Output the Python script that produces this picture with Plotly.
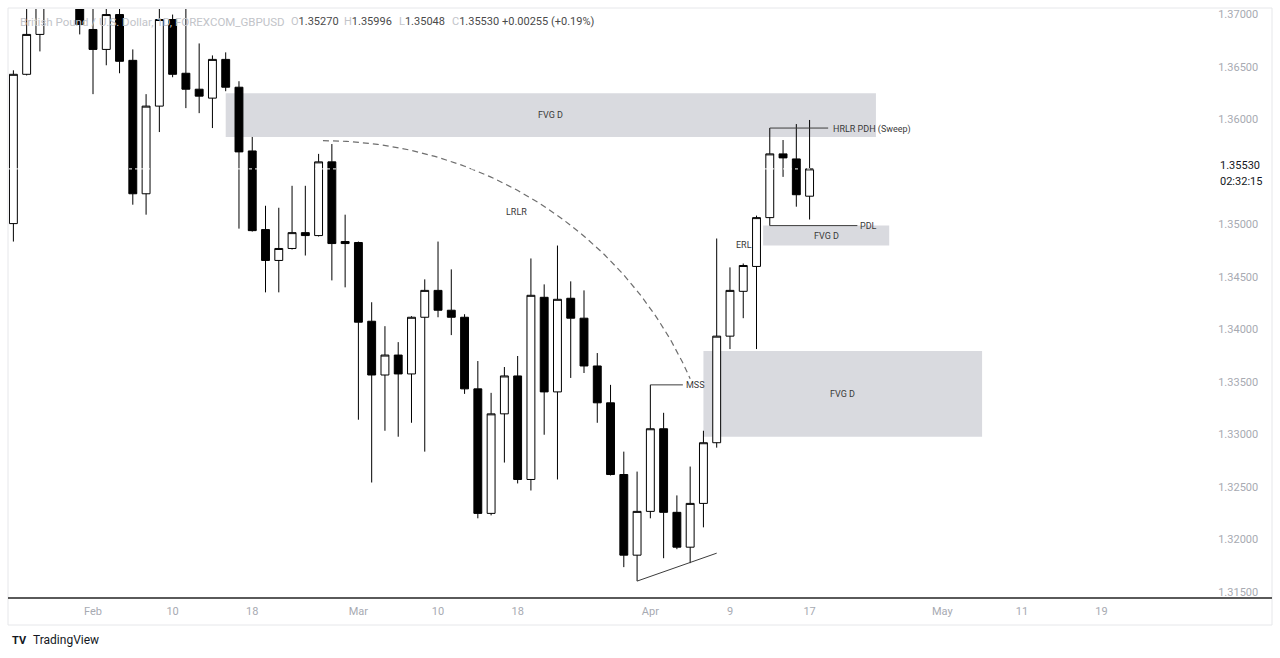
import math
import numpy as np
import pandas as pd
import plotly.graph_objects as go

# ---------------- data (GBPUSD daily, FOREXCOM) ----------------
dates = [
    "2026-01-23", "2026-01-26", "2026-01-27", "2026-01-28", "2026-01-29", "2026-01-30",
    "2026-02-02", "2026-02-03", "2026-02-04", "2026-02-05", "2026-02-06", "2026-02-09",
    "2026-02-10", "2026-02-11", "2026-02-12", "2026-02-13", "2026-02-16", "2026-02-17",
    "2026-02-18", "2026-02-19", "2026-02-20", "2026-02-23", "2026-02-24", "2026-02-25",
    "2026-02-26", "2026-02-27",
    "2026-03-02", "2026-03-03", "2026-03-04", "2026-03-05", "2026-03-06", "2026-03-09",
    "2026-03-10", "2026-03-11", "2026-03-12", "2026-03-13", "2026-03-16", "2026-03-17",
    "2026-03-18", "2026-03-19", "2026-03-20", "2026-03-23", "2026-03-24", "2026-03-25",
    "2026-03-26", "2026-03-27", "2026-03-30", "2026-03-31",
    "2026-04-01", "2026-04-02", "2026-04-03", "2026-04-06", "2026-04-07", "2026-04-08",
    "2026-04-09", "2026-04-10", "2026-04-13", "2026-04-14", "2026-04-15", "2026-04-16",
    "2026-04-17",
]
opens = [
    1.35009, 1.36431, 1.36811, 1.37250, 1.37680, 1.37400,
    1.36858, 1.36668, 1.37000, 1.36564, 1.35293, 1.36128, 1.36953, 1.36441, 1.36289, 1.36204,
    1.36573, 1.36308, 1.35701, 1.34952, 1.34658, 1.34772, 1.34923, 1.34895, 1.35597, 1.34838,
    1.34829, 1.34079, 1.33567, 1.33757, 1.33577, 1.34117, 1.34373, 1.34184, 1.34117, 1.33435,
    1.32249, 1.33197, 1.33558, 1.32572, 1.34307, 1.33406, 1.34298, 1.34108, 1.33653, 1.33302,
    1.32619, 1.31851,
    1.32268, 1.33055, 1.32259, 1.31927, 1.32344, 1.32922, 1.33937, 1.34364, 1.34601, 1.35066,
    1.35673, 1.35625, 1.35270,
]
highs = [
    1.36469, 1.37350, 1.37600, 1.37900, 1.38150, 1.37520,
    1.37150, 1.37120, 1.37080, 1.36668, 1.36242, 1.37120, 1.37000, 1.37100, 1.36725, 1.36611,
    1.36640, 1.36365, 1.35834, 1.35179, 1.35160, 1.35369, 1.35369, 1.35673, 1.35767, 1.35094,
    1.34838, 1.34260, 1.34032, 1.33880, 1.34127, 1.34478, 1.34838, 1.34573, 1.34146, 1.33700,
    1.33397, 1.33643, 1.33748, 1.34677, 1.34430, 1.34800, 1.34459, 1.34373, 1.33776, 1.33473,
    1.32837, 1.32647,
    1.33473, 1.33207, 1.32420, 1.32695, 1.33036, 1.34867, 1.34592, 1.34629, 1.35085, 1.35919,
    1.35805, 1.35957, 1.35996,
]
lows = [
    1.34838, 1.36420, 1.36649, 1.37120, 1.37180, 1.36811,
    1.36242, 1.36517, 1.36441, 1.35189, 1.35094, 1.35881, 1.36403, 1.36109, 1.36061, 1.35919,
    1.36270, 1.34961, 1.34933, 1.34354, 1.34354, 1.34762, 1.34705, 1.34886, 1.34468, 1.34402,
    1.33141, 1.32543, 1.33036, 1.32979, 1.33112, 1.32837, 1.34117, 1.33947, 1.33387, 1.32202,
    1.32230, 1.32733, 1.32534, 1.32467, 1.32998, 1.32572, 1.33539, 1.33586, 1.33112, 1.32610,
    1.31737, 1.31604,
    1.32202, 1.31822, 1.31908, 1.31775, 1.32116, 1.32875, 1.33814, 1.34108, 1.33814, 1.34990,
    1.35454, 1.35170, 1.35048,
]
closes = [
    1.36431, 1.36811, 1.37250, 1.37680, 1.37400, 1.36905,
    1.36668, 1.37000, 1.36555, 1.35293, 1.36128, 1.36953, 1.36431, 1.36289, 1.36223, 1.36573,
    1.36308, 1.35692, 1.34942, 1.34658, 1.34772, 1.34923, 1.34895, 1.35597, 1.34819, 1.34819,
    1.34070, 1.33567, 1.33757, 1.33577, 1.34117, 1.34373, 1.34184, 1.34117, 1.33435, 1.32249,
    1.33197, 1.33558, 1.32572, 1.34326, 1.33406, 1.34288, 1.34108, 1.33653, 1.33302, 1.32619,
    1.31851, 1.32268,
    1.33055, 1.32259, 1.31927, 1.32344, 1.32922, 1.33937, 1.34373, 1.34610, 1.35066, 1.35673,
    1.35635, 1.35284, 1.35530,
]

# axis ticks
time_tick_dates = ["2026-02-02", "2026-02-10", "2026-02-18", "2026-03-02", "2026-03-10",
                   "2026-03-18", "2026-04-01", "2026-04-09", "2026-04-17", "2026-05-01",
                   "2026-05-11", "2026-05-19"]
time_tick_text = ["Feb", "10", "18", "Mar", "10", "18", "Apr", "9", "17", "May", "11", "19"]
price_ticks = [1.315, 1.320, 1.325, 1.330, 1.335, 1.340, 1.345, 1.350, 1.360, 1.365, 1.370]
last_price = 1.35530

# drawings (anchors in bars relative to 2026-02-02 and in price)
fvg_boxes = [  # (start bar, end bar, low, high)
    (10.0, 59.0, 1.35834, 1.36251),
    (50.5, 60.0, 1.34800, 1.34990),
    (46.0, 67.0, 1.32979, 1.33795),
]
mss_level = 1.33473
mss_bars = (42.0, 44.45)
pdh_level = 1.35919
pdh_bars = (51.0, 55.4)
pdl_level = 1.34990
pdl_bars = (51.0, 57.6)
trend_bars = (41.0, 47.0)
trend_prices = (1.31604, 1.31870)
arc_start = (17.33, 1.35799)
arc_end = (45.0, 1.33531)
arc_semi_axis_bars = 30.1

# ---------------- helpers ----------------
cal = pd.bdate_range("2026-01-12", "2026-06-12")
base = cal.get_loc(pd.Timestamp("2026-02-02"))


def xb(i):
    k = math.floor(i)
    return cal[base + k] + pd.Timedelta(days=float(i - k))


W, H = 1280, 658
L, R, T, B = 9, 1200, 9, 598


def px(x):
    return (x - L) / (R - L)


def py(y):
    return 1 - (y - T) / (B - T)


# ---------------- figure ----------------
fig = go.Figure()

fig.add_trace(go.Candlestick(
    x=dates, open=opens, high=highs, low=lows, close=closes,
    increasing=dict(line=dict(color="#000000", width=1), fillcolor="#ffffff"),
    decreasing=dict(line=dict(color="#000000", width=1), fillcolor="#000000"),
    whiskerwidth=0, showlegend=False, hoverinfo="skip",
))

shapes = []
annotations = []
box_color = "#d9dadf"
line_color = "#3c3c3c"
txt_color = "#3a3a3a"

for (b0, b1, lo, hi) in fvg_boxes:
    shapes.append(dict(type="rect", xref="x", yref="y", x0=xb(b0), x1=xb(b1), y0=lo, y1=hi,
                       fillcolor=box_color, line=dict(width=0), layer="below"))
    annotations.append(dict(x=xb((b0 + b1) / 2), y=(lo + hi) / 2, xref="x", yref="y",
                            text="FVG D", showarrow=False,
                            font=dict(size=9, color=txt_color, family="Roboto")))

# MSS
shapes.append(dict(type="line", xref="x", yref="y", x0=xb(mss_bars[0]), x1=xb(mss_bars[1]),
                   y0=mss_level, y1=mss_level, line=dict(color=line_color, width=1)))
annotations.append(dict(x=xb(mss_bars[1] + 0.05), y=mss_level, xref="x", yref="y", text="MSS",
                        xanchor="left", showarrow=False,
                        font=dict(size=9, color=txt_color, family="Roboto")))
# HRLR PDH
shapes.append(dict(type="line", xref="x", yref="y", x0=xb(pdh_bars[0]), x1=xb(pdh_bars[1]),
                   y0=pdh_level, y1=pdh_level, line=dict(color=line_color, width=1)))
annotations.append(dict(x=xb(pdh_bars[1] + 0.25), y=pdh_level - 0.00015, xref="x", yref="y",
                        text="HRLR PDH (Sweep)", xanchor="left", showarrow=False,
                        font=dict(size=9, color=txt_color, family="Roboto")))
# PDL
shapes.append(dict(type="line", xref="x", yref="y", x0=xb(pdl_bars[0]), x1=xb(pdl_bars[1]),
                   y0=pdl_level, y1=pdl_level, line=dict(color=line_color, width=1)))
annotations.append(dict(x=xb(pdl_bars[1] + 0.05), y=pdl_level, xref="x", yref="y", text="PDL",
                        xanchor="left", showarrow=False,
                        font=dict(size=9, color=txt_color, family="Roboto")))
# trend line under the lows
shapes.append(dict(type="line", xref="x", yref="y", x0=xb(trend_bars[0]), x1=xb(trend_bars[1]),
                   y0=trend_prices[0], y1=trend_prices[1], line=dict(color=line_color, width=1)))

# arc (quarter ellipse) LRLR
a = arc_semi_axis_bars
t_end = math.asin((arc_end[0] - arc_start[0]) / a)
bv = (arc_start[1] - arc_end[1]) / (1 - math.cos(t_end))
ts = np.linspace(0, t_end, 120)
arc_x = [xb(arc_start[0] + a * math.sin(t)) for t in ts]
arc_y = [arc_start[1] - bv * (1 - math.cos(t)) for t in ts]
fig.add_trace(go.Scatter(x=arc_x, y=arc_y, mode="lines", showlegend=False, hoverinfo="skip",
                         line=dict(color="#6e6e6e", width=1.2, dash="6px,4px")))

annotations.append(dict(x=xb(31.9), y=1.35123, xref="x", yref="y", text="LRLR", showarrow=False,
                        font=dict(size=9, color=txt_color, family="Roboto")))
annotations.append(dict(x=xb(49.05), y=1.34810, xref="x", yref="y", text="ERL", showarrow=False,
                        font=dict(size=9, color=txt_color, family="Roboto")))

# last price dotted line (white, only visible over dark bodies)
shapes.append(dict(type="line", xref="paper", yref="y", x0=0, x1=1, y0=last_price, y1=last_price,
                   line=dict(color="#ffffff", width=1, dash="dot"), layer="above"))

# frame and axis line
shapes.append(dict(type="rect", xref="paper", yref="paper", x0=px(8), x1=px(1272), y0=py(625), y1=py(8),
                   line=dict(color="#e6e7ea", width=1), fillcolor="rgba(0,0,0,0)", layer="below"))
shapes.append(dict(type="line", xref="paper", yref="paper", x0=px(8), x1=px(1272), y0=py(598), y1=py(598),
                   line=dict(color="#5a5a5a", width=2)))

# header
hdr_font = dict(size=11, family="Roboto", color="#c2c4c9")
val_font = dict(size=11, family="Roboto", color="#4a4a4a")
annotations.append(dict(x=px(18), y=py(22), xref="paper", yref="paper", xanchor="left", yanchor="middle",
                        text="British Pound / U.S. Dollar, 1D, FOREXCOM_GBPUSD", showarrow=False,
                        font=dict(size=11.5, family="Roboto", color="#c2c4c9")))
hdr_vals = [("O", "1.35270", 289), ("H", "1.35996", 342), ("L", "1.35048", 397), ("C", "1.35530", 450)]
for lab, val, xx in hdr_vals:
    annotations.append(dict(x=px(xx), y=py(22), xref="paper", yref="paper", xanchor="left", yanchor="middle",
                            text=f"<span style='color:#c2c4c9'>{lab}</span>{val}", showarrow=False,
                            font=val_font))
annotations.append(dict(x=px(500), y=py(22), xref="paper", yref="paper", xanchor="left", yanchor="middle",
                        text="+0.00255 (+0.19%)", showarrow=False, font=val_font))

# last price label on the price scale
annotations.append(dict(x=px(1218), y=py(166), xref="paper", yref="paper", xanchor="left", yanchor="middle",
                        text="1.35530", showarrow=False,
                        font=dict(size=11, family="Roboto", color="#131722")))
annotations.append(dict(x=px(1218), y=py(181), xref="paper", yref="paper", xanchor="left", yanchor="middle",
                        text="02:32:15", showarrow=False,
                        font=dict(size=11, family="Roboto", color="#131722")))

# TradingView brand
annotations.append(dict(x=px(10), y=py(640), xref="paper", yref="paper", xanchor="left", yanchor="middle",
                        text="<b>TV</b>", showarrow=False,
                        font=dict(size=11, family="Roboto", color="#131722")))
annotations.append(dict(x=px(31), y=py(640), xref="paper", yref="paper", xanchor="left", yanchor="middle",
                        text="TradingView", showarrow=False,
                        font=dict(size=12, family="Roboto", color="#131722")))

fig.update_layout(
    width=W, height=H, autosize=False,
    margin=dict(l=L, r=W - R, t=T, b=H - B, pad=0),
    paper_bgcolor="#ffffff", plot_bgcolor="#ffffff",
    shapes=shapes, annotations=annotations,
    showlegend=False, hovermode=False,
    boxgap=0.15,
    xaxis=dict(
        type="date",
        range=[xb(-6.33), xb(83.42)],
        rangebreaks=[dict(bounds=["sat", "mon"])],
        rangeslider=dict(visible=False),
        tickvals=time_tick_dates, ticktext=time_tick_text,
        tickfont=dict(size=11, family="Roboto", color="#a7aab2"),
        ticks="outside", ticklen=3, tickcolor="rgba(0,0,0,0)",
        showgrid=False, zeroline=False, showline=False,
    ),
    yaxis=dict(
        side="right",
        range=[1.31443, 1.37053],
        tickvals=price_ticks, ticktext=[f"{v:.5f}" for v in price_ticks],
        tickfont=dict(size=11, family="Roboto", color="#a7aab2"),
        ticks="outside", ticklen=15, tickcolor="rgba(0,0,0,0)",
        showgrid=False, zeroline=False, showline=False,
    ),
)

fig.write_html("out.html")
